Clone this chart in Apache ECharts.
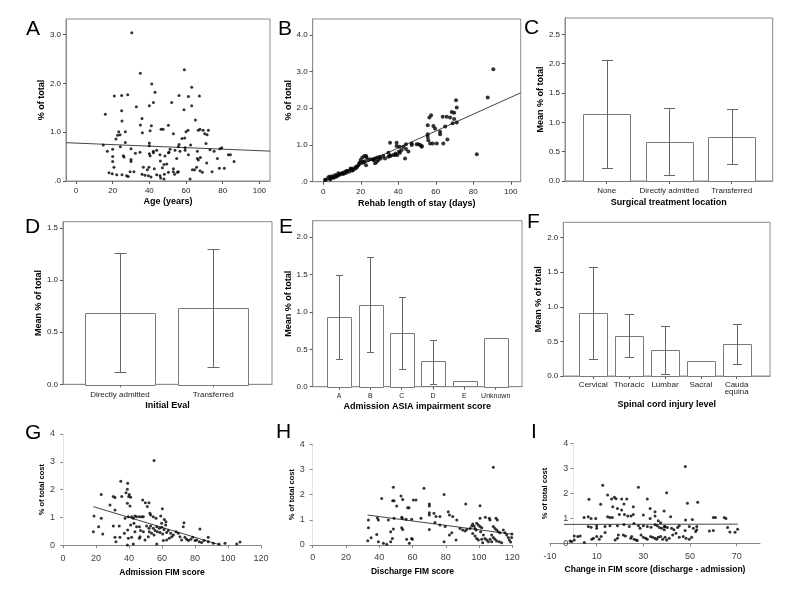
<!DOCTYPE html>
<html>
<head>
<meta charset="utf-8">
<script src="https://cdn.jsdelivr.net/npm/echarts@6/dist/echarts.min.js"></script>
<style>
html, body { margin: 0; padding: 0; background: #fff; }
#main { width: 800px; height: 600px; }
</style>
</head>
<body>
<div id="main"></div>
<script>
// A: age vs % of total
var ageData = [[30.4,3.04],[35.1,2.21],[59.1,2.28],[41.3,1.99],[63.1,1.92],[43.1,1.82],
  [20.9,1.74],[24.9,1.75],[28.2,1.77],[56.2,1.75],[61.3,1.73],[67.3,1.74],
  [32.9,1.52],[40.0,1.54],[42.2,1.61],[52.2,1.61],[58.9,1.46],[63.1,1.54],
  [16.0,1.37],[24.9,1.44],[36.0,1.28],[65.1,1.25],[25.1,1.23],[35.1,1.15],
  [41.1,1.13],[50.4,1.14],[46.4,1.06],[47.5,1.06],[23.3,1.01],[26.9,1.01],
  [66.7,1.04],[67.6,1.06],[69.3,1.04],[72.2,1.04],[61.1,1.04],[60.0,1.01],
  [70.2,0.97],[71.5,0.95],[24.0,0.95],[22.7,0.94],[36.2,0.99],[40.4,1.03],
  [53.1,0.97],[57.8,0.87],[59.3,0.88],[21.8,0.86],[26.9,0.79],[40.0,0.78],
  [40.0,0.72],[14.9,0.74],[56.2,0.75],[55.8,0.70],[59.5,0.68],[62.5,0.74],
  [70.9,0.77],[17.1,0.61],[20.0,0.65],[24.2,0.70],[30.0,0.66],[32.4,0.57],
  [34.9,0.59],[42.2,0.61],[42.2,0.58],[44.0,0.63],[45.8,0.54],[51.3,0.65],
  [50.7,0.59],[54.0,0.63],[56.7,0.61],[59.5,0.63],[66.2,0.61],[73.1,0.64],
  [75.3,0.61],[78.5,0.66],[79.5,0.68],[20.0,0.50],[25.8,0.52],[26.2,0.49],
  [30.0,0.44],[30.0,0.40],[40.0,0.56],[40.4,0.52],[48.5,0.51],[50.4,0.58],
  [61.3,0.54],[66.7,0.43],[67.8,0.48],[71.3,0.37],[77.1,0.46],[83.1,0.54],
  [84.2,0.54],[86.2,0.40],[20.0,0.40],[46.0,0.41],[49.5,0.35],[54.9,0.46],
  [66.2,0.46],[20.7,0.28],[36.7,0.28],[38.9,0.23],[39.8,0.28],[42.7,0.25],
  [47.1,0.27],[48.0,0.34],[53.1,0.25],[53.1,0.19],[55.8,0.19],[63.5,0.23],
  [64.7,0.23],[65.8,0.28],[67.6,0.21],[68.9,0.18],[74.2,0.19],[78.2,0.26],
  [80.9,0.26],[18.0,0.17],[19.8,0.15],[22.2,0.13],[25.1,0.13],[29.5,0.19],
  [31.6,0.19],[36.0,0.14],[37.6,0.12],[40.9,0.08],[44.0,0.13],[45.8,0.11],
  [48.2,0.14],[50.4,0.18],[53.8,0.14],[55.3,0.18],[46.2,0.06],[48.0,0.04],
  [62.2,0.04],[27.6,0.11],[28.5,0.09],[39.5,0.11]];
var ageFit = [[-5.45,0.785],[105.8,0.612]];

// B: rehab length of stay vs % of total
var stayData = [[90.7,3.06],[87.7,2.29],[81.9,0.75],[70.8,2.22],[71.2,2.02],[68.5,1.90],[69.8,1.88],
  [65.8,1.77],[63.7,1.77],[67.6,1.75],[57.5,1.81],[56.6,1.75],[55.7,1.54],[58.7,1.52],[59.6,1.45],
  [69.0,1.59],[71.2,1.61],[69.8,1.71],[65.0,1.50],[62.3,1.36],[62.3,1.29],[66.2,1.15],[55.7,1.29],
  [55.7,1.22],[56.0,1.13],[57.0,1.04],[58.4,1.04],[60.5,1.04],[64.0,1.04],[51.6,1.00],[52.5,0.97],
  [49.8,1.02],[47.1,1.04],[44.1,1.02],[42.7,0.95],[44.1,0.89],[45.4,0.82],[40.6,0.95],[39.1,0.97],
  [35.6,1.06],[39.1,1.06],[43.6,0.63],[40.9,0.79],[38.3,0.73],[35.6,0.70],[34.7,0.79],[32.0,0.70],
  [30.2,0.68],[28.8,0.66],[27.6,0.63],[26.7,0.61],[25.3,0.61],[24.0,0.59],[22.2,0.56],[20.8,0.66],
  [19.9,0.59],[23.1,0.66],[21.0,0.54],[21.9,0.70],[22.8,0.70],
  [19.6,0.52],[18.7,0.45],[17.4,0.41],[16.0,0.36],[14.6,0.34],[12.5,0.29],[10.7,0.24],[8.9,0.21],
  [7.1,0.15],[5.3,0.12],[3.6,0.06],[1.4,0.05],[0.9,0.05],[2.7,0.12],[3.6,0.14],[4.1,0.09],[5.0,0.15],
  [5.7,0.11],[6.4,0.18],[7.1,0.14],[8.0,0.23],[8.5,0.18],[9.3,0.21],[10.1,0.24],[10.7,0.21],[11.6,0.27],
  [12.1,0.24],[12.8,0.29],[13.7,0.27],[14.6,0.36],[15.3,0.30],[16.0,0.32],[17.3,0.36],[18.1,0.41],
  [19.2,0.50],[21.4,0.52],[22.8,0.45],[26.7,0.59],[27.6,0.50],[28.5,0.54],[29.4,0.59],[30.6,0.63],
  [32.9,0.63],[34.7,0.68],[35.9,0.71],[37.4,0.73],[38.6,0.77],[39.5,0.73],[40.4,0.82],[41.8,0.86],
  [47.2,1.00],[50.7,1.02],[52.5,0.95]];
var stayFit = [[0,0],[105.3,2.42]];

// C: surgical treatment location
var surgCats = ['None', 'Directly admitted', 'Transferred'];
var surgMean = [1.147, 0.67, 0.755];
var surgLow = [0.216, 0.102, 0.284];
var surgHigh = [2.07, 1.238, 1.22];

// D: initial eval
var evalCats = ['Directly admitted', 'Transferred'];
var evalMean = [0.686, 0.734];
var evalLow = [0.118, 0.169];
var evalHigh = [1.255, 1.296];

// E: admission ASIA impairment score
var asiaCats = ['A', 'B', 'C', 'D', 'E', 'Unknown'];
var asiaMean = [0.936, 1.096, 0.72, 0.34, 0.07, 0.655];
var asiaLow = [0.37, 0.46, 0.24, 0.03, null, null];
var asiaHigh = [1.49, 1.74, 1.20, 0.63, null, null];

// F: spinal cord injury level
var levelCats = ['Cervical', 'Thoracic', 'Lumbar', 'Sacral', 'Cauda\nequina'];
var levelMean = [0.915, 0.578, 0.37, 0.21, 0.458];
var levelLow = [0.24, 0.27, 0.025, null, 0.17];
var levelHigh = [1.58, 0.89, 0.72, null, 0.75];

// G: admission FIM
var admFimData = [[55.2,3.05],[35,2.30],[39.2,2.23],[39,2.01],[38.2,1.89],[40.2,1.83],[39.8,1.75],[41,1.73],
  [23.2,1.83],[30.5,1.75],[31.5,1.72],[35.6,1.75],[28.5,1.45],[31.5,1.27],[39,1.51],[40.6,1.41],[48.3,1.63],
  [49.9,1.53],[52.1,1.53],[51.1,1.39],[52.7,1.15],[60.2,1.31],[18.8,1.05],[23.2,0.97],[37.6,0.97],[39.6,1.03],
  [41.6,1.03],[42.6,0.97],[43.6,1.05],[44.6,1.03],[46.3,1.03],[47.7,1.03],[48.7,1.03],[53.1,1.09],[54.7,1.03],
  [56.4,0.97],[59.2,1.05],[61.4,0.93],[59.8,0.79],[62.4,0.85],[62.2,0.73],[18.4,0.49],[21.6,0.67],[24.1,0.41],
  [34.1,0.69],[37.2,0.43],[34.5,0.29],[32.1,0.13],[39.2,0.55],[41,0.73],[43,0.79],[43.6,0.49],[44.6,0.67],
  [46.3,0.67],[47,0.53],[48.7,0.49],[46.7,0.31],[50.7,0.69],[52.1,0.61],[53.1,0.69],[54.7,0.61],[55.8,0.53],
  [52.3,0.49],[53.7,0.43],[55.2,0.37],[56.8,0.67],[58.4,0.61],[59.8,0.65],[61.2,0.57],[57.2,0.49],[58.8,0.46],
  [60.4,0.41],[62.8,0.46],[63.8,0.53],[65.3,0.43],[65.9,0.31],[66.9,0.37],[68.5,0.49],[69.9,0.43],[70.9,0.31],
  [71.9,0.19],[72.9,0.67],[73.3,0.81],[73.9,0.29],[74.9,0.22],[76,0.17],[77.4,0.22],[78.6,0.29],[80,0.17],
  [81,0.19],[82.6,0.13],[83,0.59],[84,0.1],[85.5,0.17],[88,0.13],[91.1,0.07],[88,0.29],[94.5,0.05],[98.2,0.07],
  [105.3,0.05],[107.3,0.12],[39,0.01],[42.6,0.05],[46.3,0.25],[49.7,0.19],[51.7,0.31],[56.8,0.05],[60.8,0.17],
  [62.8,0.19],[64.4,0.25],[30.5,0.69],[31.5,0.29],[39.6,0.25],[41.6,0.29]];
var admFimFit = [[18.4,1.39],[96,0]];

// H: discharge FIM
var disFimData = [[108.6,3.09],[48.5,2.29],[66.9,2.25],[79,2.01],[41.5,1.85],[53.1,1.95],[54.1,1.81],[48.1,1.76],
  [48.9,1.76],[50.5,1.55],[60.5,1.79],[62.1,1.79],[57.1,1.48],[57.9,1.48],[70.1,1.63],[70.1,1.55],[92,1.63],
  [100.6,1.56],[70.1,1.28],[70.1,1.19],[72.9,1.26],[74.1,1.13],[76.5,1.13],[81.5,1.32],[82.2,1.19],[84.2,1.13],
  [33.5,0.99],[33.5,0.69],[38.9,1.07],[39.5,0.99],[45.5,0.99],[48.9,1.06],[53.5,1.10],[53.9,1.06],[56.1,1.02],
  [59.5,1.02],[65.1,1.06],[73.5,0.89],[70.1,0.62],[76.5,0.79],[79.6,0.73],[86.6,0.99],[48.5,0.64],[53.5,0.69],
  [54.1,0.62],[46.9,0.53],[47.9,0.26],[46.9,0.13],[33.1,0.17],[35.1,0.29],[38.5,0.42],[39.5,0.13],[42.5,0.07],
  [44.5,0.03],[56.5,0.23],[58.1,0.07],[59.5,0.26],[59.9,0.23],[79,0.13],[82.2,0.4],[83.6,0.49],[86.2,0.2],
  [88.6,0.66],[90.2,0.60],[91.6,0.56],[92.6,0.62],[94.6,0.66],[95.6,0.75],[96.2,0.83],[97,0.75],[97.6,0.66],
  [98.2,0.60],[98.6,0.86],[99.6,0.79],[100.6,0.73],[101.6,0.69],[96.2,0.46],[97.6,0.36],[98.6,0.26],[99.6,0.20],
  [100.6,1.06],[101,0.53],[102.6,0.40],[103.6,0.26],[104.6,0.20],[105.6,0.13],[103.8,1.10],[106.2,1.06],
  [106.6,0.99],[108.6,0.73],[109.6,0.66],[110.6,0.60],[111.6,0.53],[112.6,0.49],[107.6,0.40],[108.6,0.30],
  [109.6,0.23],[110.6,0.16],[112.2,0.13],[113.6,0.09],[114.6,0.60],[115.6,0.49],[116.6,0.40],[117.6,0.30],
  [118.2,0.20],[119,0.12],[119.6,0.30],[119.8,0.44],[110.2,1.06],[111,0.99],[106.6,0.23],[107.6,0.13],
  [101.6,0.23],[102.2,0.09]];
var disFimFit = [[33,1.19],[120,0.43]];

// I: change in FIM
var chgFimData = [[48,3.08],[12.6,2.33],[27.9,2.25],[40,2.03],[14.7,1.94],[17.6,1.85],[18.3,1.79],[16.4,1.78],
  [20.7,1.78],[22.9,1.78],[31.7,1.78],[53.3,1.65],[6.7,1.77],[11.7,1.57],[16.9,1.47],[18.9,1.40],[21.7,1.58],
  [25.7,1.47],[32.9,1.40],[35,1.27],[38.9,1.30],[48.9,1.61],[30,1.14],[20.7,1.34],[21.9,1.16],[23.3,1.10],
  [24.7,1.10],[19.7,1.16],[25.7,1.16],[14.7,1.07],[15.7,1.04],[16.7,1.04],[4.6,1.04],[6.4,1.07],[7.6,1.0],
  [9.6,1.0],[35,1.10],[41.7,1.07],[51,0.96],[60,1.04],[60.9,1.04],[64.7,1.04],[65.4,1.0],[48.1,0.94],
  [36.4,0.91],[37.4,0.83],[39,0.67],[39,0.54],[32.9,1.00],[6.4,0.67],[7.6,0.64],[10,0.70],[10,0.60],
  [13.6,0.67],[15.7,0.70],[18.9,0.70],[21.7,0.76],[24,0.67],[26,0.80],[27.9,0.70],[28.6,0.60],[30,0.70],
  [31.7,0.67],[33.3,0.64],[35,0.74],[36,0.70],[36.9,0.63],[37.9,0.60],[39.3,0.67],[40.3,0.63],[42.1,0.60],
  [43.1,0.54],[44.7,0.63],[45.4,0.70],[47.9,0.51],[49.7,0.67],[51.4,0.60],[52.9,0.54],[58.3,0.49],[60,0.51],
  [66.1,0.63],[69.3,0.44],[70.4,0.56],[52.9,0.67],[0.4,0.29],[1.9,0.27],[-1.4,0.09],[-0.7,0.07],[0.4,0.13],
  [4.7,0.03],[2.9,0.29],[10,0.27],[11.9,0.27],[11.1,0.16],[7.9,0.16],[8.6,0.20],[13.6,0.43],[19.3,0.33],
  [21.4,0.33],[22.3,0.29],[17.9,0.13],[18.9,0.20],[24.6,0.20],[25,0.27],[26,0.16],[26.9,0.13],[27.4,0.11],
  [29,0.33],[30,0.24],[31,0.20],[31.7,0.16],[33.1,0.27],[34,0.24],[35,0.20],[35.7,0.16],[36.4,0.24],
  [37.4,0.27],[38.3,0.16],[39.3,0.24],[40,0.13],[41.1,0.20],[42.6,0.33],[44,0.40],[45.4,0.24],[47.1,0.27],
  [48.3,0.20],[49.7,0.16],[50.7,0.24],[52.4,0.47],[67.1,0.45]];
var chgFimFit = [[-4,0.76],[70.5,0.77]];

// tick values
var ageTicks = [0, 20, 40, 60, 80, 100];
var pct3Ticks = [0, 1, 2, 3];
var pct4Ticks = [0, 1, 2, 3, 4];
var mean25Ticks = [0, 0.5, 1, 1.5, 2, 2.5];
var mean15Ticks = [0, 0.5, 1, 1.5];
var mean20Ticks = [0, 0.5, 1, 1.5, 2];
var fimTicks = [0, 20, 40, 60, 80, 100, 120];
var chgTicks = [-10, 10, 30, 50, 70];
var costTicks = [0, 1, 2, 3, 4];

var FONT = 'Liberation Sans, Arial, Helvetica, sans-serif';
var chart = echarts.init(document.getElementById('main'));
var grids = [], xAxes = [], yAxes = [], series = [];

function spssPct(v) { return v === 0 ? '.0' : v.toFixed(1); }
function oneDec(v) { return v.toFixed(1); }
function catFmt(cats) { return function (v) { return cats[Math.round(v) - 1] || ''; }; }
function seq(n) { var a = []; for (var i = 1; i <= n; i++) a.push(i); return a; }

function makeAxis(gi, dim, o, framed) {
  var lineCol = framed ? '#8c8c8c' : (dim === 'x' ? '#868686' : '#e3e3e3');
  return {
    type: 'value', gridIndex: gi, min: o.min, max: o.max,
    position: dim === 'x' ? 'bottom' : 'left',
    offset: o.offset || 0,
    name: o.name, nameLocation: 'middle', nameGap: o.gap,
    nameTextStyle: { fontFamily: FONT, fontWeight: 'bold', fontSize: o.nameSize || 9, color: '#000' },
    axisLine: { show: true, onZero: false, lineStyle: { color: lineCol, width: 1 } },
    axisTick: { show: true, length: 3, customValues: o.ticks, lineStyle: { color: framed ? '#555' : '#868686' } },
    axisLabel: { customValues: o.ticks, formatter: o.fmt, margin: o.margin, fontFamily: FONT,
      fontSize: o.size || 8, lineHeight: o.lh || 10, color: framed ? '#222' : '#404040' },
    splitLine: { show: false }
  };
}

function addPanel(box, framed, xo, yo) {
  var gi = grids.length;
  grids.push({ left: box[0], top: box[1], width: box[2] - box[0], height: box[3] - box[1],
    show: framed, borderColor: '#8c8c8c', borderWidth: 1, backgroundColor: 'transparent',
    containLabel: false, outerBoundsMode: 'none' });
  xAxes.push(makeAxis(gi, 'x', xo, framed));
  yAxes.push(makeAxis(gi, 'y', yo, framed));
  return gi;
}

function addScatter(gi, data, fit, size) {
  series.push({ type: 'line', xAxisIndex: gi, yAxisIndex: gi, data: fit, showSymbol: false, silent: true,
    lineStyle: { color: '#444', width: 1 }, z: 2 });
  series.push({ type: 'scatter', xAxisIndex: gi, yAxisIndex: gi, data: data, symbolSize: size, silent: true,
    itemStyle: { color: '#000' }, z: 3 });
}

function addBars(gi, means, lows, highs, barW, cap) {
  var bars = means.map(function (m, i) { return [i + 1, m]; });
  var errs = [];
  lows.forEach(function (lo, i) { if (lo != null) errs.push([i + 1, lo, highs[i]]); });
  series.push({ type: 'custom', xAxisIndex: gi, yAxisIndex: gi, data: bars, silent: true, z: 2,
    renderItem: function (params, api) {
      var x = api.value(0);
      var a = api.coord([x - barW / 2, api.value(1)]);
      var b = api.coord([x + barW / 2, 0]);
      return { type: 'rect',
        shape: { x: Math.round(a[0]) + 0.5, y: Math.round(a[1]) + 0.5, width: Math.round(b[0] - a[0]), height: Math.round(b[1] - a[1]) },
        style: { fill: '#fff', stroke: '#7a7a7a', lineWidth: 1 } };
    } });
  series.push({ type: 'custom', xAxisIndex: gi, yAxisIndex: gi, data: errs, silent: true, z: 3,
    renderItem: function (params, api) {
      var x = api.value(0);
      var lo = api.coord([x, api.value(1)]);
      var hi = api.coord([x, api.value(2)]);
      var px = Math.round(lo[0]) + 0.5, y1 = Math.round(lo[1]) + 0.5, y2 = Math.round(hi[1]) + 0.5;
      var st = { stroke: '#666', lineWidth: 1 };
      return { type: 'group', children: [
        { type: 'line', shape: { x1: px, y1: y1, x2: px, y2: y2 }, style: st },
        { type: 'line', shape: { x1: px - cap, y1: y2, x2: px + cap, y2: y2 }, style: st },
        { type: 'line', shape: { x1: px - cap, y1: y1, x2: px + cap, y2: y1 }, style: st }
      ] };
    } });
}

// A
var gA = addPanel([66, 19, 270, 181], true,
  { min: -5.45, max: 105.8, ticks: ageTicks, name: 'Age (years)', gap: 15.5, margin: 5 },
  { min: 0, max: 3.32, ticks: pct3Ticks, fmt: spssPct, name: '% of total', gap: 19.5, margin: 5 });
addScatter(gA, ageData, ageFit, 3);

// B
var gB = addPanel([312.7, 19, 520.7, 181.7], true,
  { min: -5.66, max: 105.3, ticks: ageTicks, name: 'Rehab length of stay (days)', gap: 17.8, margin: 5 },
  { min: 0, max: 4.43, ticks: pct4Ticks, fmt: spssPct, name: '% of total', gap: 18.2, margin: 5 });
addScatter(gB, stayData, stayFit, 4);

// C
var gC = addPanel([565, 18, 772.7, 181], true,
  { min: 0.333, max: 3.656, ticks: seq(3), fmt: catFmt(surgCats), name: 'Surgical treatment location', gap: 16.8, margin: 5 },
  { min: 0, max: 2.78, ticks: mean25Ticks, fmt: oneDec, name: 'Mean % of total', gap: 18.8, margin: 5 });
addBars(gC, surgMean, surgLow, surgHigh, 0.75, 5.5);

// D
var gD = addPanel([63, 221.7, 272, 384.3], true,
  { min: 0.39, max: 2.63, ticks: seq(2), fmt: catFmt(evalCats), name: 'Initial Eval', gap: 17, margin: 5 },
  { min: 0, max: 1.56, ticks: mean15Ticks, fmt: oneDec, name: 'Mean % of total', gap: 19.2, margin: 5 });
addBars(gD, evalMean, evalLow, evalHigh, 0.747, 6);

// E
var gE = addPanel([312.7, 220.7, 522, 386.7], true,
  { min: 0.16, max: 6.84, ticks: seq(6), fmt: catFmt(asiaCats), name: 'Admission ASIA impairment score', gap: 14.5, margin: 4.5, size: 7 },
  { min: 0, max: 2.22, ticks: mean20Ticks, fmt: oneDec, name: 'Mean % of total', gap: 19.2, margin: 5 });
addBars(gE, asiaMean, asiaLow, asiaHigh, 0.756, 3.5);

// F
var gF = addPanel([563.3, 222.3, 770, 376], true,
  { min: 0.163, max: 5.93, ticks: seq(5), fmt: catFmt(levelCats), name: 'Spinal cord injury level', gap: 24.5, margin: 5, lh: 7.5 },
  { min: 0, max: 2.22, ticks: mean20Ticks, fmt: oneDec, name: 'Mean % of total', gap: 18.8, margin: 5 });
addBars(gF, levelMean, levelLow, levelHigh, 0.78, 4.5);

// G
var gG = addPanel([63, 434, 261, 545.3], false,
  { min: 0, max: 120, ticks: fimTicks, name: 'Admission FIM score', gap: 23, margin: 8, size: 9, nameSize: 8.5 },
  { min: 0, max: 4, ticks: costTicks, name: '% of total cost', gap: 15.5, margin: 8, size: 9, nameSize: 7.5 });
addScatter(gG, admFimData, admFimFit, 3);

// H
var gH = addPanel([312.7, 444.3, 512.3, 545], false,
  { min: 0, max: 120, ticks: fimTicks, name: 'Discharge FIM score', gap: 22, margin: 8, size: 9, nameSize: 8.5 },
  { min: 0, max: 4, ticks: costTicks, name: '% of total cost', gap: 16.5, margin: 8, size: 9, nameSize: 7.5 });
addScatter(gH, disFimData, disFimFit, 3);

// I (vertical axis crosses at x = 0, i.e. 23.3px inside the plot's left edge)
var gI = addPanel([550, 443.7, 760, 543.3], false,
  { min: -10, max: 80, ticks: chgTicks, name: 'Change in FIM score (discharge - admission)', gap: 21.7, margin: 8, size: 9, nameSize: 8.5 },
  { min: 0, max: 4, ticks: costTicks, name: '% of total cost', gap: 24, margin: 5, size: 9, nameSize: 7.5, offset: -23.3 });
addScatter(gI, chgFimData, chgFimFit, 3);

var panelLetters = ['A', 'B', 'C', 'D', 'E', 'F', 'G', 'H', 'I'];
var letterPos = [[26, 29], [278, 29], [524, 28.5], [25, 227], [279, 227.5], [527, 222], [25, 433], [276, 432.5], [531, 432.5]];
var letters = panelLetters.map(function (t, i) {
  return { type: 'text', x: letterPos[i][0], y: letterPos[i][1],
    style: { text: t, fontFamily: FONT, fontSize: 21, fill: '#000', verticalAlign: 'middle' } };
});

chart.setOption({
  animation: false,
  backgroundColor: '#fff',
  textStyle: { fontFamily: FONT },
  grid: grids,
  xAxis: xAxes,
  yAxis: yAxes,
  series: series,
  graphic: letters
});
</script>
</body>
</html>
